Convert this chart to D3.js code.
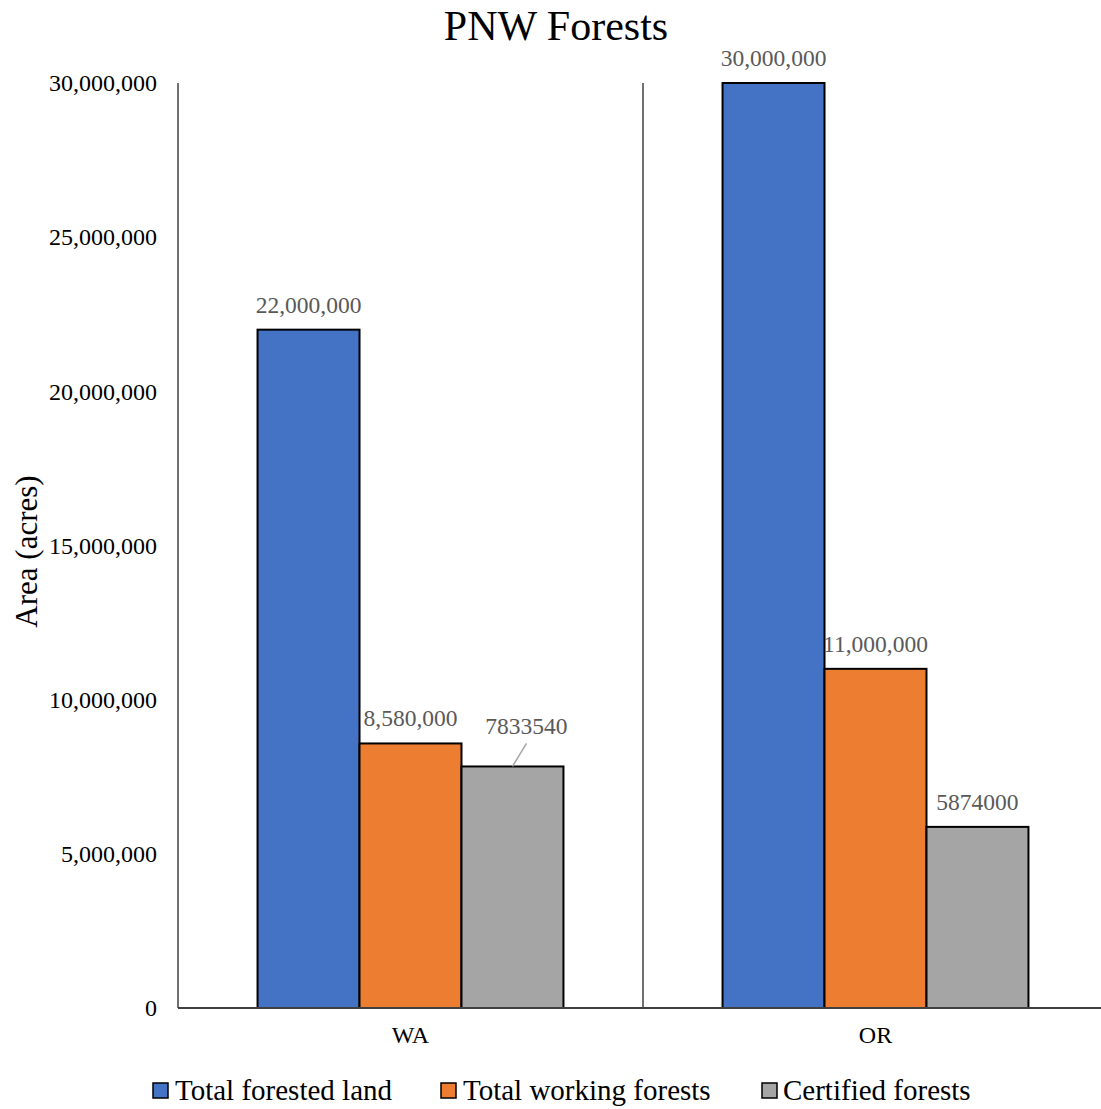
<!DOCTYPE html>
<html>
<head>
<meta charset="utf-8">
<script src="https://cdn.jsdelivr.net/npm/d3@7"></script>
<style>
  html, body { margin: 0; padding: 0; background: #fff; }
  svg { display: block; font-family: "Liberation Serif", "Times New Roman", serif; }
</style>
</head>
<body>
<svg id="chart" width="1101" height="1109"></svg>
<script>
// Forest area by state
const states = ["WA", "OR"];
const seriesNames = ["Total forested land", "Total working forests", "Certified forests"];
const seriesColors = ["#4472C4", "#ED7D31", "#A5A5A5"];
const forestedLand = [22000000, 30000000];
const workingForests = [8580000, 11000000];
const certifiedForests = [7833540, 5874000];
// Labels as printed on each bar
const forestedLabels = ["22,000,000", "30,000,000"];
const workingLabels = ["8,580,000", "11,000,000"];
const certifiedLabels = ["7833540", "5874000"];
const yTicks = [0, 5000000, 10000000, 15000000, 20000000, 25000000, 30000000];

const series = [forestedLand, workingForests, certifiedForests];
const labels = [forestedLabels, workingLabels, certifiedLabels];

const svg = d3.select("#chart");
const plot = { left: 178, right: 1108, top: 83, bottom: 1008 };

const x0 = d3.scaleBand().domain(states).range([plot.left, plot.right]).paddingInner(0).paddingOuter(0);
const x1 = d3.scaleBand().domain(d3.range(seriesNames.length))
  .range([0, x0.bandwidth()]).paddingOuter(0.78).paddingInner(0);
const y = d3.scaleLinear().domain([0, 30000000]).range([plot.bottom, plot.top]);

// Title
svg.append("text").attr("x", 556).attr("y", 40).attr("text-anchor", "middle")
  .attr("font-size", 42).attr("fill", "#000").text("PNW Forests");

// Y axis labels
const fmt = d3.format(",");
const yAxis = d3.axisLeft(y).tickValues(yTicks).tickSize(0).tickPadding(21).tickFormat(d => fmt(d));
const yg = svg.append("g").attr("transform", `translate(${plot.left},0)`).call(yAxis);
yg.select(".domain").remove();
yg.selectAll("text").attr("font-size", 24).attr("fill", "#000")
  .attr("font-family", "'Liberation Serif', 'Times New Roman', serif");

// Y axis title
svg.append("text").attr("transform", `translate(37,${(plot.top + plot.bottom) / 2 + 6}) rotate(-90)`)
  .attr("text-anchor", "middle").attr("font-size", 31).attr("fill", "#000").text("Area (acres)");

// Bars
states.forEach((s, i) => {
  series.forEach((vals, j) => {
    const bx = x0(s) + x1(j);
    svg.append("rect")
      .attr("x", bx).attr("y", y(vals[i]))
      .attr("width", x1.bandwidth()).attr("height", y(0) - y(vals[i]))
      .attr("fill", seriesColors[j]).attr("stroke", "#000").attr("stroke-width", 2);
  });
});

// Axis lines and category divider
svg.append("line").attr("x1", plot.left).attr("x2", plot.left).attr("y1", plot.top).attr("y2", plot.bottom)
  .attr("stroke", "#404040").attr("stroke-width", 1.5);
svg.append("line").attr("x1", x0("OR")).attr("x2", x0("OR")).attr("y1", plot.top).attr("y2", plot.bottom)
  .attr("stroke", "#404040").attr("stroke-width", 1.5);
svg.append("line").attr("x1", plot.left).attr("x2", plot.right).attr("y1", plot.bottom).attr("y2", plot.bottom)
  .attr("stroke", "#404040").attr("stroke-width", 2);

// Category labels
const xAxis = d3.axisBottom(x0).tickSize(0).tickPadding(18);
const xg = svg.append("g").attr("transform", `translate(0,${plot.bottom})`).call(xAxis);
xg.select(".domain").remove();
xg.selectAll("text").attr("font-size", 24).attr("fill", "#000")
  .attr("font-family", "'Liberation Serif', 'Times New Roman', serif");

// Value labels
states.forEach((s, i) => {
  series.forEach((vals, j) => {
    const cx = x0(s) + x1(j) + x1.bandwidth() / 2;
    const top = y(vals[i]);
    let lx = cx, ly = top - 17;
    if (s === "WA" && j === 2) {
      // label pulled up and right with a leader line
      lx = cx + 14; ly = top - 32;
      svg.append("line").attr("x1", cx).attr("y1", top)
        .attr("x2", cx + 14).attr("y2", top - 23)
        .attr("stroke", "#A5A5A5").attr("stroke-width", 1.5);
    }
    svg.append("text").attr("x", lx).attr("y", ly).attr("text-anchor", "middle")
      .attr("font-size", 23.5).attr("fill", "#595959").text(labels[j][i]);
  });
});

// Legend
const legendItems = [
  { x: 153, tx: 175 },
  { x: 441, tx: 463 },
  { x: 762, tx: 783 }
];
seriesNames.forEach((name, j) => {
  svg.append("rect").attr("x", legendItems[j].x).attr("y", 1083).attr("width", 15).attr("height", 15)
    .attr("fill", seriesColors[j]).attr("stroke", "#000").attr("stroke-width", 1.5);
  svg.append("text").attr("x", legendItems[j].tx).attr("y", 1100)
    .attr("font-size", 29).attr("fill", "#000").text(name);
});
</script>
</body>
</html>
